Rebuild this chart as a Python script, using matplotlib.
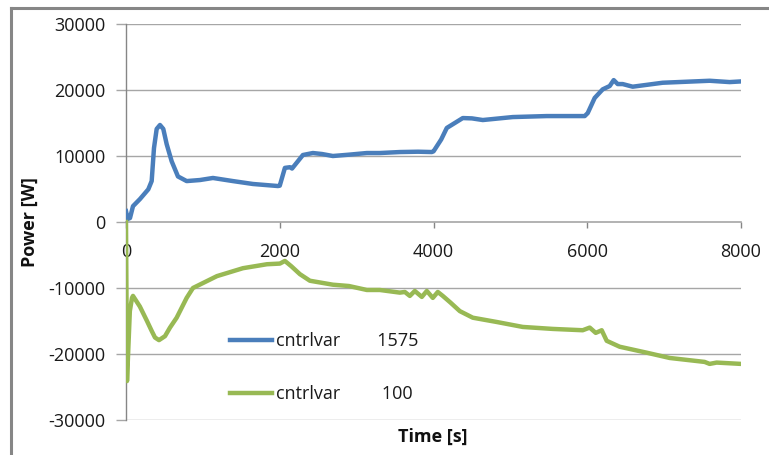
import matplotlib
matplotlib.use("Agg")
import matplotlib.pyplot as plt
from matplotlib.lines import Line2D

plt.rcParams['font.family'] = ['Open Sans', 'DejaVu Sans']
plt.rcParams['axes.unicode_minus'] = False

# Series 1: cntrlvar 1575
t_1575 = [0, 22, 52, 91, 182, 290, 334, 364, 399, 442, 485, 529, 594, 676, 789, 962, 1131, 1391,
          1651, 1976, 2000, 2067, 2132, 2160, 2301, 2431, 2550, 2691, 2900, 3133, 3302, 3562, 3800,
          3978, 4000, 4100, 4173, 4277, 4381, 4500, 4641, 5031, 5473, 5967, 6006, 6097, 6201, 6292,
          6344, 6396, 6461, 6591, 6981, 7592, 7852, 8000]
p_1575 = [1650, 450, 600, 2400, 3480, 4950, 6200, 11200, 14100, 14700, 14100, 11800, 9200, 6900, 6200, 6360, 6670, 6200,
          5760, 5450, 5500, 8200, 8300, 8100, 10150, 10450, 10300, 10000, 10200, 10450, 10450, 10600, 10650,
          10600, 10700, 12500, 14250, 15000, 15750, 15700, 15450, 15900, 16050, 16050, 16500, 18800, 20100, 20600,
          21500, 20900, 20900, 20500, 21100, 21400, 21200, 21300]

# Series 2: cntrlvar 100
t_100 = [0, 13, 50, 78, 91, 180, 273, 334, 377, 429, 507, 572, 659, 789, 871, 1183, 1521, 1833, 2002,
         2067, 2150, 2262, 2392, 2691, 2900, 3133, 3302, 3562, 3627, 3692, 3757, 3848, 3913, 3991,
         4056, 4121, 4220, 4342, 4511, 4823, 5161, 5551, 5941, 6032, 6110, 6188, 6253, 6422, 6773,
         7072, 7527, 7592, 7683, 8000]
p_100 = [0, -24100, -13500, -11500, -11200, -12800, -15000, -16500, -17500, -17900, -17300, -16000, -14500, -11500, -10000, -8200, -7000, -6400, -6300,
         -5900, -6700, -7900, -8900, -9500, -9700, -10300, -10300, -10700, -10600, -11200, -10450, -11350, -10450, -11500,
         -10600, -11200, -12200, -13500, -14500, -15150, -15900, -16200, -16400, -16000, -16800, -16400, -18000, -18900, -19800,
         -20600, -21200, -21500, -21300, -21500]

x_ticks = [0, 2000, 4000, 6000, 8000]
y_ticks = [-30000, -20000, -10000, 0, 10000, 20000, 30000]

W, H = 769, 455
fig = plt.figure(figsize=(W / 100, H / 100), dpi=100)
ax = fig.add_axes([126 / W, 1 - 420 / H, (741 - 126) / W, (420 - 24) / H])

blue = '#4a7ebb'
green = '#98b954'
ax.plot(t_1575, p_1575, color=blue, lw=3.2, solid_joinstyle='round', label='cntrlvar        1575', zorder=3)
ax.plot(t_100, p_100, color=green, lw=3.2, solid_joinstyle='round', label='cntrlvar         100', zorder=3)

ax.set_xlim(0, 8000)
ax.set_ylim(-30000, 30000)
ax.set_xticks(x_ticks)
ax.set_yticks(y_ticks)

grid_c = '#a6a6a6'
for v in y_ticks:
    if v != 0:
        ax.axhline(v, color=grid_c, lw=1.0, zorder=1)

for s in ['top', 'right']:
    ax.spines[s].set_visible(False)
ax.spines['bottom'].set_position(('data', 0))
ax.spines['bottom'].set_color(grid_c)
ax.spines['bottom'].set_linewidth(1.2)
ax.spines['bottom'].set_zorder(2)
ax.spines['left'].set_color('#868686')
ax.spines['left'].set_linewidth(1.0)

ax.tick_params(axis='x', direction='out', length=4, width=1, color='#868686', pad=11,
               labelsize=13, labelcolor='#1a1a1a')
ax.tick_params(axis='y', direction='out', length=7, width=1, color=grid_c, pad=8,
               labelsize=13, labelcolor='#1a1a1a')

fig.text(30 / W, 1 - 222 / H, 'Power [W]', rotation=90, ha='center', va='center',
         fontsize=13, fontweight='bold', color='#111111')
fig.text(433 / W, 1 - 437 / H, 'Time [s]', ha='center', va='center',
         fontsize=13, fontweight='bold', color='#111111')

leg = ax.legend(loc='upper left', bbox_to_anchor=(230 / W, 1 - 332 / H),
                bbox_transform=fig.transFigure, frameon=False, fontsize=13,
                handlelength=2.3, handletextpad=0.25, labelspacing=1.95, borderpad=0,
                borderaxespad=0)
for txt in leg.get_texts():
    txt.set_color('#1a1a1a')

# outer chart frame
fig.add_artist(Line2D([11 / W, 1.0], [1 - 8 / H, 1 - 8 / H], transform=fig.transFigure,
                      color='#868686', lw=2.2))
fig.add_artist(Line2D([11 / W, 11 / W], [1 - 8 / H, 0.0], transform=fig.transFigure,
                      color='#868686', lw=2.2))

fig.savefig('out.png', dpi=100)
